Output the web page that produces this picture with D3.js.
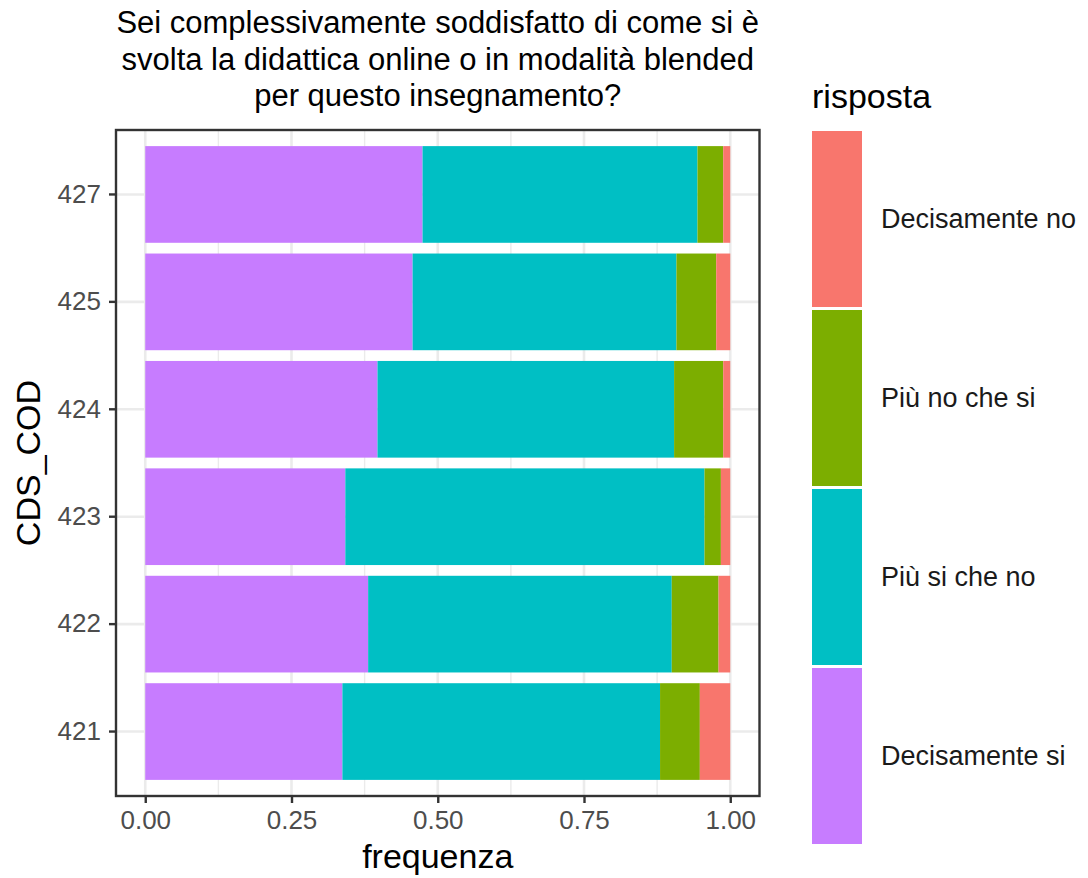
<!DOCTYPE html>
<html>
<head>
<meta charset="utf-8">
<script src="https://cdn.jsdelivr.net/npm/d3@7"></script>
<style>
  html, body { margin: 0; padding: 0; background: #ffffff; }
  svg { display: block; }
  text { font-family: "Liberation Sans", Arial, Helvetica, sans-serif; }
</style>
</head>
<body>
<svg id="chart" width="1088" height="878"></svg>
<script>
// ---- data ----
const categories = ["421", "422", "423", "424", "425", "427"];
const responses = ["Decisamente si", "Più si che no", "Più no che si", "Decisamente no"];
const decisamenteSi = [0.337, 0.381, 0.342, 0.397, 0.457, 0.474];
const piuSiCheNo   = [0.543, 0.519, 0.614, 0.507, 0.451, 0.470];
const piuNoCheSi   = [0.068, 0.080, 0.028, 0.084, 0.068, 0.044];
const decisamenteNo = [0.052, 0.020, 0.016, 0.012, 0.024, 0.012];
const xTicks = [0, 0.25, 0.5, 0.75, 1];
const xMinor = [0.125, 0.375, 0.625, 0.875];
const colors = ["#C77CFF", "#00BFC4", "#7CAE00", "#F8766D"];
const titleLines = [
  "Sei complessivamente soddisfatto di come si è",
  "svolta la didattica online o in modalità blended",
  "per questo insegnamento?"
];

const seriesArrays = [decisamenteSi, piuSiCheNo, piuNoCheSi, decisamenteNo];
const rows = categories.map((c, i) => {
  const r = { cat: c };
  responses.forEach((k, j) => r[k] = seriesArrays[j][i]);
  return r;
});

// ---- layout ----
const panel = { left: 116, right: 759.5, top: 130, bottom: 796 };
const svg = d3.select("#chart");

const x = d3.scaleLinear().domain([-0.05, 1.05]).range([panel.left, panel.right]);
const y = d3.scaleBand()
  .domain(categories.slice().reverse())
  .range([panel.top, panel.bottom])
  .paddingInner(0.1)
  .paddingOuter(0.15);
const color = d3.scaleOrdinal().domain(responses).range(colors);

// panel background
svg.append("rect")
  .attr("x", panel.left).attr("y", panel.top)
  .attr("width", panel.right - panel.left).attr("height", panel.bottom - panel.top)
  .attr("fill", "#ffffff");

// grid
const grid = svg.append("g");
grid.selectAll("line.minor").data(xMinor).join("line")
  .attr("x1", d => x(d)).attr("x2", d => x(d))
  .attr("y1", panel.top).attr("y2", panel.bottom)
  .attr("stroke", "#ebebeb").attr("stroke-width", 1.4);
grid.selectAll("line.majx").data(xTicks).join("line")
  .attr("x1", d => x(d)).attr("x2", d => x(d))
  .attr("y1", panel.top).attr("y2", panel.bottom)
  .attr("stroke", "#ebebeb").attr("stroke-width", 2.6);
grid.selectAll("line.majy").data(categories).join("line")
  .attr("x1", panel.left).attr("x2", panel.right)
  .attr("y1", d => y(d) + y.bandwidth() / 2).attr("y2", d => y(d) + y.bandwidth() / 2)
  .attr("stroke", "#ebebeb").attr("stroke-width", 2.6);

// bars
const stacked = d3.stack().keys(responses)(rows);
svg.append("g").selectAll("g").data(stacked).join("g")
  .attr("fill", d => color(d.key))
  .selectAll("rect").data(d => d).join("rect")
  .attr("x", d => x(d[0]))
  .attr("width", d => x(d[1]) - x(d[0]))
  .attr("y", d => y(d.data.cat))
  .attr("height", y.bandwidth());

// panel border
svg.append("rect")
  .attr("x", panel.left).attr("y", panel.top)
  .attr("width", panel.right - panel.left).attr("height", panel.bottom - panel.top)
  .attr("fill", "none").attr("stroke", "#333333").attr("stroke-width", 2.4);

// x axis
const xAxis = d3.axisBottom(x).tickValues(xTicks).tickFormat(d3.format(".2f"))
  .tickSizeInner(7).tickSizeOuter(0).tickPadding(8);
const gx = svg.append("g").attr("transform", `translate(0,${panel.bottom})`).call(xAxis);
gx.select(".domain").remove();
gx.selectAll(".tick line").attr("stroke", "#333333").attr("stroke-width", 2.4);
gx.selectAll(".tick text").attr("fill", "#4d4d4d").attr("font-size", 26)
  .attr("font-family", "Liberation Sans, Arial, sans-serif");

// y axis
const yAxis = d3.axisLeft(y).tickSizeInner(7).tickSizeOuter(0).tickPadding(8);
const gy = svg.append("g").attr("transform", `translate(${panel.left},0)`).call(yAxis);
gy.select(".domain").remove();
gy.selectAll(".tick line").attr("stroke", "#333333").attr("stroke-width", 2.4);
gy.selectAll(".tick text").attr("fill", "#4d4d4d").attr("font-size", 26)
  .attr("font-family", "Liberation Sans, Arial, sans-serif");

// axis titles
svg.append("text")
  .attr("x", (panel.left + panel.right) / 2).attr("y", 868)
  .attr("text-anchor", "middle").attr("font-size", 34).attr("fill", "#000")
  .text("frequenza");
svg.append("text")
  .attr("transform", `translate(40,${(panel.top + panel.bottom) / 2}) rotate(-90)`)
  .attr("text-anchor", "middle").attr("font-size", 34).attr("fill", "#000")
  .text("CDS_COD");

// title
svg.append("g").selectAll("text").data(titleLines).join("text")
  .attr("x", (panel.left + panel.right) / 2)
  .attr("y", (d, i) => 33 + i * 36.5)
  .attr("text-anchor", "middle").attr("font-size", 31).attr("fill", "#000")
  .text(d => d);

// legend
const legendOrder = responses.slice().reverse();
const leg = svg.append("g");
leg.append("text").attr("x", 812).attr("y", 108)
  .attr("font-size", 34).attr("fill", "#000").text("risposta");
const keyTop = 131, keyStep = 179, keyH = 176;
leg.selectAll("rect").data(legendOrder).join("rect")
  .attr("x", 812).attr("y", (d, i) => keyTop + i * keyStep)
  .attr("width", 50).attr("height", keyH)
  .attr("fill", d => color(d));
leg.selectAll("text.lab").data(legendOrder).join("text")
  .attr("class", "lab")
  .attr("x", 881).attr("y", (d, i) => keyTop + i * keyStep + keyH / 2)
  .attr("dy", "0.35em")
  .attr("font-size", 27).attr("fill", "#1a1a1a")
  .text(d => d);
</script>
</body>
</html>
